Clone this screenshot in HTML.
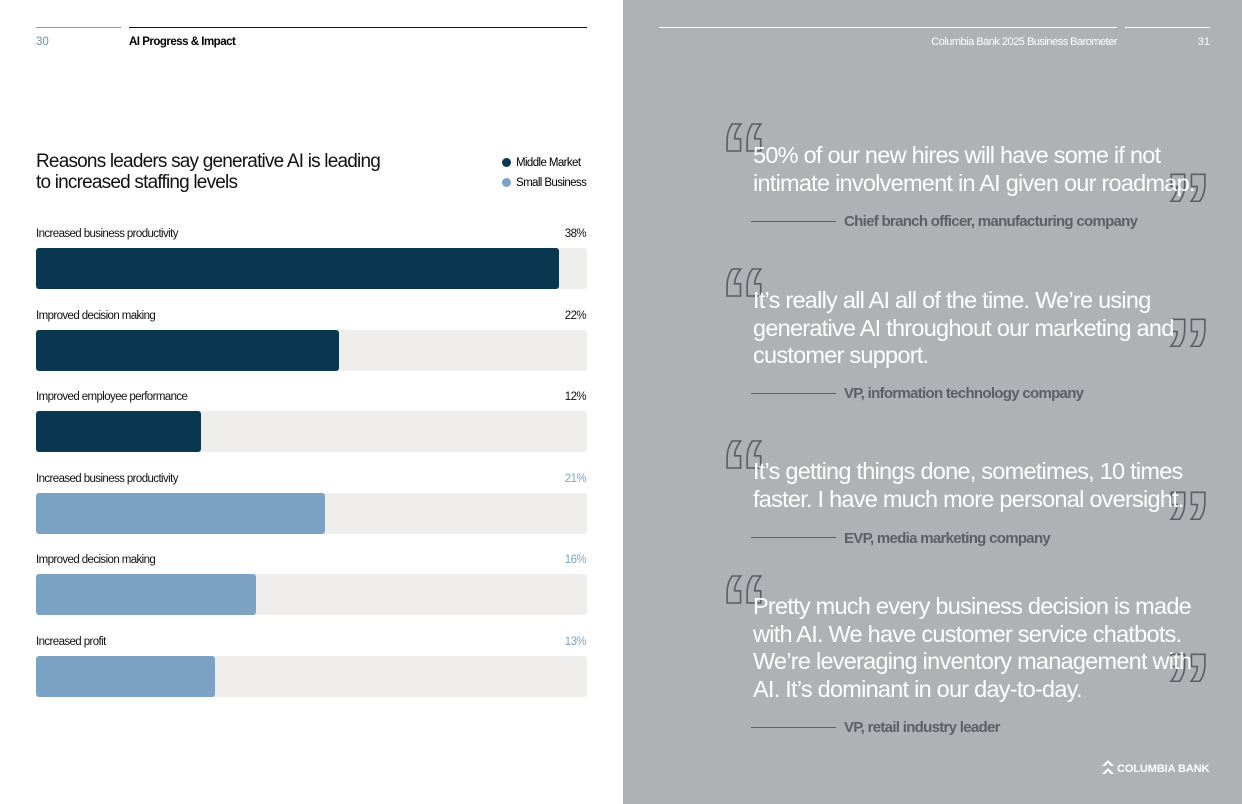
<!DOCTYPE html>
<html><head><meta charset="utf-8"><style>
body{margin:0;width:1242px;height:804px;position:relative;background:#fff;font-family:"Liberation Sans",sans-serif;overflow:hidden}
.abs{position:absolute}
.right{left:623px;top:0;width:619px;height:804px;background:#b0b1b5}
.q{color:#fff;font-size:23.5px;line-height:27.6px;letter-spacing:-0.75px;width:460px}
.attr{color:#5e5f65;font-size:15px;font-weight:bold;letter-spacing:-0.7px}
.qm{font-family:"Liberation Sans",sans-serif;font-weight:bold;font-size:96px;line-height:1;color:transparent;-webkit-text-stroke:1.6px #5c5d62}
.line{height:1px;background:#5e5f65;width:85px}
.lbl{font-size:11.5px;letter-spacing:-0.6px;color:#111}
.pct{font-size:11.5px;letter-spacing:-0.6px}
</style></head><body>
<div class="abs" style="left:36px;top:27px;width:85px;height:1px;background:#999"></div>
<div class="abs" style="left:129px;top:27px;width:458px;height:1px;background:#111"></div>
<div class="abs" style="left:36px;top:36px;font-size:11.5px;color:#6b8fb5">30</div>
<div class="abs" style="left:129px;top:36px;font-size:11.5px;font-weight:bold;letter-spacing:-0.5px">AI Progress &amp; Impact</div>
<div class="abs" style="left:36px;top:151px;font-size:19px;line-height:21px;letter-spacing:-0.8px;color:#111">Reasons leaders say generative AI is leading<br>to increased staffing levels</div>
<div class="abs" style="left:502px;top:157px;font-size:11.5px;letter-spacing:-0.6px"><span style="display:inline-block;width:9px;height:9px;border-radius:50%;background:#08374f;vertical-align:-1px;margin-right:5px"></span>Middle Market</div>
<div class="abs" style="left:502px;top:177px;font-size:11.5px;letter-spacing:-0.6px"><span style="display:inline-block;width:9px;height:9px;border-radius:50%;background:#7da3c4;vertical-align:-1px;margin-right:5px"></span>Small Business</div>
<div id="chart"></div>

<div class="abs right"></div>
<div class="abs" style="left:659px;top:27px;width:458px;height:1px;background:#fff"></div>
<div class="abs" style="left:1125px;top:27px;width:85px;height:1px;background:#fff"></div>
<div class="abs" style="left:900px;width:217px;text-align:right;top:36px;font-size:11px;color:#fff;letter-spacing:-0.5px">Columbia Bank 2025 Business Barometer</div>
<div class="abs" style="left:1180px;width:30px;text-align:right;top:36px;font-size:11px;color:#fff">31</div>

<div class="abs qm" style="left:720px;top:110px">“</div>
<div class="abs qm" style="left:1164px;top:160px">”</div>
<div class="abs q" style="left:753px;top:142px">50% of our new hires will have some if not intimate involvement in AI given our roadmap.</div>
<div class="abs line" style="left:751px;top:221px"></div>
<div class="abs attr" style="left:844px;top:213px">Chief branch officer, manufacturing company</div>

<div class="abs qm" style="left:720px;top:255px">“</div>
<div class="abs qm" style="left:1164px;top:305px">”</div>
<div class="abs q" style="left:753px;top:287px">It’s really all AI all of the time. We’re using generative AI throughout our marketing and customer support.</div>
<div class="abs line" style="left:751px;top:393px"></div>
<div class="abs attr" style="left:844px;top:385px">VP, information technology company</div>

<div class="abs qm" style="left:720px;top:427px">“</div>
<div class="abs qm" style="left:1164px;top:478px">”</div>
<div class="abs q" style="left:753px;top:458px">It’s getting things done, sometimes, 10 times faster. I have much more personal oversight.</div>
<div class="abs line" style="left:751px;top:537px"></div>
<div class="abs attr" style="left:844px;top:530px">EVP, media marketing company</div>

<div class="abs qm" style="left:720px;top:562px">“</div>
<div class="abs qm" style="left:1164px;top:640px">”</div>
<div class="abs q" style="left:753px;top:593px">Pretty much every business decision is made with AI. We have customer service chatbots. We’re leveraging inventory management with AI. It’s dominant in our day-to-day.</div>
<div class="abs line" style="left:751px;top:727px"></div>
<div class="abs attr" style="left:844px;top:719px">VP, retail industry leader</div>

<div class="abs" style="left:1101px;top:758px;color:#fff;font-size:11px;font-weight:bold;letter-spacing:-0.1px;white-space:nowrap"><svg width="14" height="18" viewBox="0 0 14 18" style="vertical-align:-4px;margin-right:2px"><path d="M1 8 L7 2 L13 8 L10 8 L7 5 L4 8Z M1 16 L7 10 L13 16 L10 16 L7 13 L4 16Z" fill="#fff"/></svg>COLUMBIA BANK</div>

<script>
const categories=["Increased business productivity","Improved decision making","Improved employee performance","Increased business productivity","Improved decision making","Increased profit"];
const values=[38,22,12,21,16,13];
const groups=["mm","mm","mm","sb","sb","sb"];
const maxVal=40;
const chart=document.getElementById('chart');
const x0=36,trackW=551;
function xs(v){return v/maxVal*trackW;}
categories.forEach((c,i)=>{
  const top=227+i*81.5;
  const col=groups[i]==="mm"?"#08374f":"#7da3c4";
  const l=document.createElement('div');
  
  
  l.className='abs lbl';l.style.left=x0+'px';l.style.top=(top+1)+'px';l.textContent=c;chart.appendChild(l);
  const p=document.createElement('div');
  
  
  p.className='abs pct';p.style.left=(x0+trackW-61)+'px';p.style.width='60px';p.style.textAlign='right';p.style.top=(top+1)+'px';
  p.style.color=groups[i]==="mm"?"#111":"#7da3c4";p.textContent=values[i]+'%';chart.appendChild(p);
  const t=document.createElement('div');
  
  
  t.className='abs';t.style.cssText=`left:${x0}px;top:${top+21}px;width:${trackW}px;height:41px;background:#efeeed;border-radius:3px`;chart.appendChild(t);
  const b=document.createElement('div');
  
  
  b.className='abs';b.style.cssText=`left:${x0}px;top:${top+21}px;width:${xs(values[i])}px;height:41px;background:${col};border-radius:3px`;chart.appendChild(b);
});
</script>
</body></html>
